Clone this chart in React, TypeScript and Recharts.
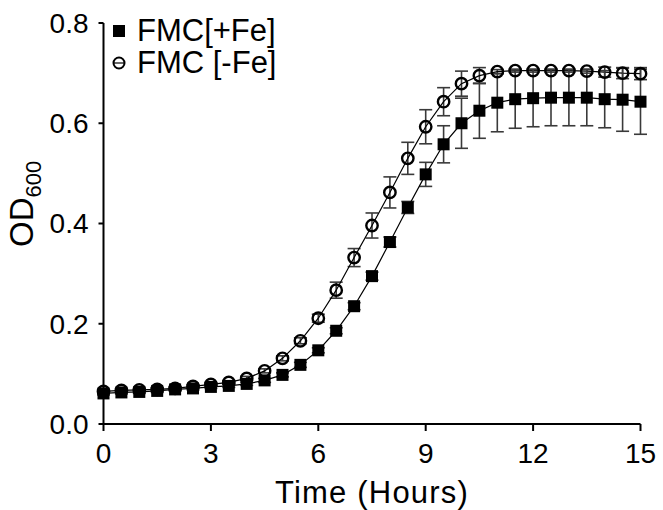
import React from 'react'
import {
  ComposedChart, Line, XAxis, YAxis, ErrorBar, Legend, Label,
} from 'recharts'

const FONT = '"Liberation Sans", Arial, Helvetica, sans-serif'

// sampling times (hours)
const times = [0, 0.5, 1, 1.5, 2, 2.5, 3, 3.5, 4, 4.5, 5, 5.5, 6, 6.5, 7, 7.5,
  8, 8.5, 9, 9.5, 10, 10.5, 11, 11.5, 12, 12.5, 13, 13.5, 14, 14.5, 15]

// FMC[+Fe] mean OD600 and SD
const fePlus = [0.061, 0.063, 0.064, 0.066, 0.069, 0.071, 0.074, 0.076, 0.080, 0.087,
  0.098, 0.118, 0.147, 0.186, 0.235, 0.295, 0.363, 0.432, 0.498, 0.558,
  0.600, 0.625, 0.641, 0.648, 0.650, 0.651, 0.651, 0.651, 0.648, 0.647, 0.643]
const fePlusSd = [0.003, 0.003, 0.003, 0.003, 0.003, 0.003, 0.003, 0.003, 0.003, 0.004,
  0.004, 0.005, 0.005, 0.006, 0.007, 0.008, 0.010, 0.012, 0.024, 0.037,
  0.050, 0.055, 0.058, 0.058, 0.057, 0.056, 0.056, 0.056, 0.057, 0.063, 0.065]

// FMC [-Fe] mean OD600 and SD
const feMinus = [0.065, 0.067, 0.068, 0.069, 0.071, 0.075, 0.079, 0.083, 0.091, 0.106,
  0.131, 0.166, 0.211, 0.267, 0.332, 0.396, 0.462, 0.530, 0.593, 0.643,
  0.679, 0.695, 0.703, 0.705, 0.705, 0.705, 0.705, 0.704, 0.702, 0.700, 0.699]
const feMinusSd = [0.003, 0.003, 0.003, 0.003, 0.003, 0.003, 0.003, 0.003, 0.004, 0.004,
  0.005, 0.006, 0.008, 0.016, 0.018, 0.025, 0.031, 0.032, 0.034, 0.028,
  0.025, 0.016, 0.004, 0.003, 0.003, 0.003, 0.003, 0.004, 0.010, 0.011, 0.012]

const xTicks = [0, 3, 6, 9, 12, 15]
const yTicks = [0, 0.2, 0.4, 0.6, 0.8]

const data = times.map((t, i) => ({
  time: t,
  plus: fePlus[i], plusErr: fePlusSd[i],
  minus: feMinus[i], minusErr: feMinusSd[i],
}))

const SquareDot = (p: any) => (
  <rect key={`s${p.index}`} x={p.cx - 6} y={p.cy - 6} width={12} height={12} fill="#000" />
)
const CircleDot = (p: any) => (
  <circle key={`c${p.index}`} cx={p.cx} cy={p.cy} r={5.7} fill="none" stroke="#000" strokeWidth={2.4} />
)

function GrowthLegend() {
  const row = { display: 'flex', alignItems: 'center', height: 32, whiteSpace: 'nowrap' } as const
  return (
    <div style={{ fontFamily: FONT, fontSize: 31, color: '#000', lineHeight: '32px' }}>
      <div style={row}>
        <svg width={16} height={16} style={{ marginRight: 10 }}>
          <rect x={2} y={2} width={12} height={12} fill="#000" />
        </svg>
        FMC[+Fe]
      </div>
      <div style={row}>
        <svg width={16} height={16} style={{ marginRight: 10 }}>
          <circle cx={8} cy={8} r={5.5} fill="none" stroke="#000" strokeWidth={2} />
          <line x1={2} y1={8} x2={14} y2={8} stroke="#000" strokeWidth={1.2} />
        </svg>
        FMC [-Fe]
      </div>
    </div>
  )
}

function YTitle({ viewBox }: any) {
  const x = 33
  const y = viewBox.y + 224
  return (
    <text x={x} y={y} transform={`rotate(-90, ${x}, ${y})`} fontFamily={FONT} fontSize={33} fill="#000">
      OD<tspan dy={8} fontSize={22}>600</tspan>
    </text>
  )
}

function XTitle({ viewBox }: any) {
  return (
    <text x={viewBox.x + viewBox.width / 2} y={viewBox.y + 79} textAnchor="middle"
      fontFamily={FONT} fontSize={31} letterSpacing={1.2} fill="#000">
      Time (Hours)
    </text>
  )
}

export default function App() {
  const tick = { fontSize: 28, fill: '#000', fontFamily: FONT }
  return (
    <div style={{ position: 'absolute', left: 0, top: 0, background: '#fff' }}>
      <ComposedChart width={663} height={510} data={data}
        margin={{ top: 23, right: 22.5, left: 23.5, bottom: 26 }}>
        <XAxis type="number" dataKey="time" domain={[0, 15]} ticks={xTicks}
          height={60} tick={tick} tickSize={7} tickMargin={12}
          axisLine={{ stroke: '#000', strokeWidth: 2 }} tickLine={{ stroke: '#000', strokeWidth: 2 }}>
          <Label content={<XTitle />} />
        </XAxis>
        <YAxis type="number" domain={[0, 0.8]} ticks={yTicks} width={80}
          tickFormatter={v => v.toFixed(1)} tick={tick} tickSize={5} tickMargin={10}
          axisLine={{ stroke: '#000', strokeWidth: 2 }} tickLine={{ stroke: '#000', strokeWidth: 2 }}>
          <Label content={<YTitle />} />
        </YAxis>
        <Legend layout="vertical" align="center" verticalAlign="middle"
          wrapperStyle={{ left: 111, top: 15, width: 'auto', height: 'auto' }}
          content={<GrowthLegend />} />
        <Line type="linear" dataKey="minus" name="FMC [-Fe]" stroke="#000" strokeWidth={1.2}
          dot={CircleDot} activeDot={false} isAnimationActive={false}>
          <ErrorBar dataKey="minusErr" width={6.5} stroke="#3a3a3a" strokeWidth={1.6} isAnimationActive={false} />
        </Line>
        <Line type="linear" dataKey="plus" name="FMC[+Fe]" stroke="#000" strokeWidth={1.2}
          dot={SquareDot} activeDot={false} isAnimationActive={false}>
          <ErrorBar dataKey="plusErr" width={6.5} stroke="#3a3a3a" strokeWidth={1.6} isAnimationActive={false} />
        </Line>
      </ComposedChart>
    </div>
  )
}
